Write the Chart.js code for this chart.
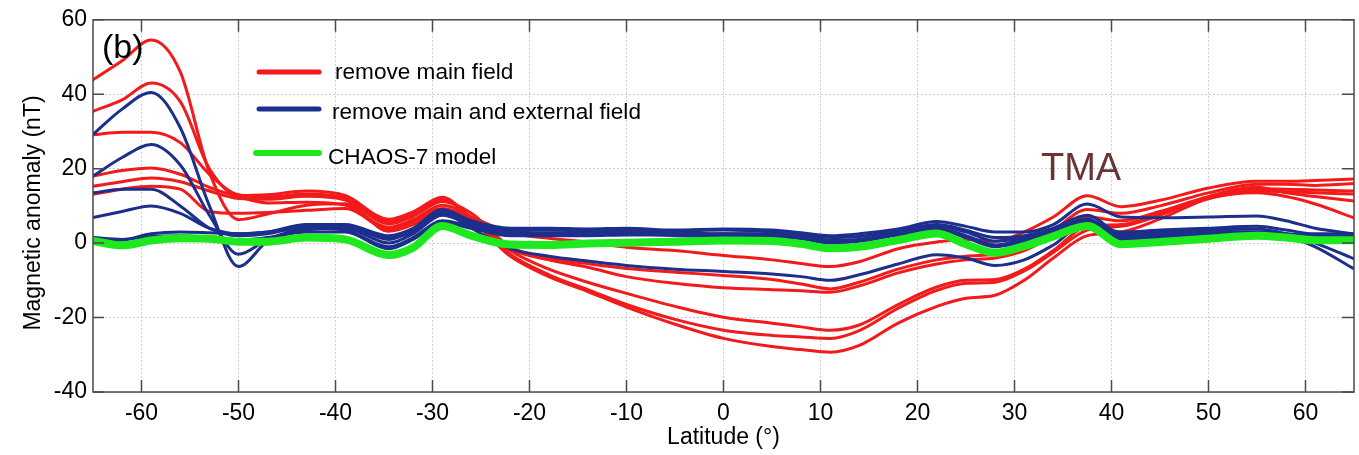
<!DOCTYPE html>
<html><head><meta charset="utf-8">
<script src="https://cdn.jsdelivr.net/npm/chart.js@4.4.0/dist/chart.umd.min.js"></script>
<style>html,body{margin:0;padding:0;background:#fff;}canvas{display:block;}</style>
</head><body>
<canvas id="c" width="1359" height="455"></canvas>
<script>
// ---- data ----
const latitude = [-65,-62,-59,-56,-53,-50,-47,-43,-39,-34.5,-32,-29,-26,-22,-18,-14,-10,-5,0,5,8,11,14,18,22,25,28,31,34,37.5,41,45,50,55,58,61,65];
const xTicks = [-60,-50,-40,-30,-20,-10,0,10,20,30,40,50,60];
const yTicks = [-40,-20,0,20,40,60];
const legendLabels = ['remove main field','remove main and external field','CHAOS-7 model'];
const yTitle = 'Magnetic anomaly (nT)';
const xTitle = 'Latitude (°)';

const chaos7 = [0.6,-0.6,0.7,1.3,1.2,0.4,0.4, 1.5,1.0,-3.2,-1.2,4.6,2.0,-0.4, -0.5,-0.1,0.1,0.4,0.7,0.6,-0.2, -1.4,-1.0,0.8,2.6,-0.3,-2.6,-0.8, 1.8,4.6,-0.3,0.3,1.2,2.0,1.5, 0.8,0.8];

const mainA = [13.1,14.5,15.3,14.5,8.5,8.0,8.2, 8.8,9.3,3.8,5.8,9.3,7.0,2.8, 1.3,0.3,-1.1,-2.0,-3.3,-4.5,-5.5, -6.3,-5.0,-1.5,0.3,1.0,0.5,3.0, 7.0,12.7,9.8,11.5,14.8,16.6,16.6, 16.8,17.2];
const mainB = [15.3,16.5,17.5,16.5,14.0,12.0,11.8, 12.6,11.6,5.2,7.2,11.2,8.0,-1.0, -4.0,-5.5,-6.8,-7.8,-8.7,-9.8,-11.0, -12.3,-10.5,-7.0,-4.5,-3.5,-3.0,-1.0, 3.5,9.0,8.0,10.0,13.5,15.8,15.8, 15.5,16.0];
const mainC = [18.0,19.5,20.2,18.5,15.0,12.5,10.8, 11.0,10.2,4.3,6.3,10.2,7.0,-1.5, -4.5,-6.5,-9.0,-10.8,-12.0,-12.5,-12.8, -13.2,-11.5,-8.0,-5.6,-4.5,-4.0,-2.0, 2.0,7.0,6.0,8.5,12.5,14.6,14.5, 14.3,14.0];
const mainD = [29.1,29.8,29.8,27.0,18.5,13.0,12.4, 13.2,12.2,5.8,7.8,11.8,6.5,-2.0, -7.0,-10.5,-13.5,-17.0,-19.9,-21.5,-22.5, -23.4,-22.0,-16.5,-11.8,-10.0,-9.8,-7.0, -2.0,4.5,5.0,8.0,12.0,14.0,13.8, 13.5,13.2];
const mainE = [35.4,38.5,43.0,38.0,20.0,12.8,13.0, 14.0,12.8,6.4,8.4,12.3,6.5,-3.0, -8.5,-12.5,-16.5,-20.5,-23.4,-24.8,-25.2, -25.6,-23.5,-17.5,-12.7,-10.8,-10.5,-7.5, -2.5,3.5,4.5,7.5,12.5,15.0,13.5, 12.5,11.3];
const mainF = [43.9,49.0,54.6,46.0,19.0,6.3,7.8, 10.2,10.6,3.2,5.0,9.0,6.0,-3.5, -9.0,-13.0,-17.2,-21.8,-25.6,-27.8,-28.6, -29.3,-27.5,-21.5,-17.0,-14.8,-14.0,-10.0, -4.0,2.0,3.0,6.5,12.0,13.5,12.5, 10.5,6.8];

const extA = [29.2,36.0,40.5,31.0,10.0,-6.3,0.5, 3.5,4.0,0.0,2.5,7.5,5.0,3.0, 2.8,2.8,3.0,2.8,2.5,2.5,1.8, 0.8,1.0,2.8,4.5,3.0,0.5,1.5, 3.5,6.5,2.0,2.5,3.0,3.0,2.0, -1.0,-6.9];
const extB = [18.0,23.0,26.5,21.0,7.5,-3.0,1.0, 4.0,4.5,1.0,3.5,8.5,5.5,3.5, 3.5,3.3,3.5,3.3,3.5,3.0,2.3, 1.5,1.8,3.3,5.0,3.5,1.5,2.0, 4.0,7.5,2.5,3.0,3.5,3.8,2.5, 0.0,-4.2];
const extC = [13.5,14.5,14.5,10.0,4.0,2.0,2.5, 4.5,4.5,1.5,3.0,8.0,4.0,-1.5, -3.5,-4.8,-6.0,-7.0,-7.6,-8.3,-9.0, -10.0,-8.5,-5.6,-3.1,-4.0,-6.0,-4.5, -0.5,5.5,3.0,3.5,4.0,4.5,3.5, 2.5,2.5];
const extD = [6.9,8.5,10.0,8.0,4.0,2.5,3.0, 5.0,5.0,2.0,4.0,9.0,6.0,4.0, 4.0,3.8,4.0,3.5,3.8,3.5,2.8, 2.0,2.5,3.8,5.8,4.5,3.0,3.0, 5.0,10.5,7.0,6.8,7.0,7.3,6.0, 4.0,2.5];
const extE = [0.5,0.8,2.5,3.0,2.8,2.5,3.0, 4.0,3.5,-1.0,1.5,6.0,4.5,2.5, 2.5,2.4,2.5,2.0,1.8,1.8,1.2, 0.0,0.5,2.2,3.5,1.5,-1.0,0.5, 2.5,5.0,1.0,1.5,2.0,2.5,2.0, 1.8,1.5];
const extF = [1.5,1.0,1.8,2.0,1.5,0.8,1.5, 3.0,3.0,-1.5,1.0,5.5,4.0,2.0, 2.0,2.0,2.2,2.2,2.5,2.2,1.5, 0.5,0.8,2.5,4.0,2.0,-0.5,1.0, 3.0,6.0,1.5,2.0,2.5,3.0,2.5, 2.0,2.0];

const mainSeries = [mainA, mainB, mainC, mainD, mainE, mainF];
const extSeries = [extA, extB, extC, extD, extE, extF];

// ---- styles ----
const RED = '#f21a1a', BLUE = '#1c2f8c', GREEN = '#1ee81e';
const FONT = '"Liberation Sans", Arial, sans-serif';
const toPts = vals => latitude.map((x, i) => ({ x, y: vals[i] }));

const datasets = [];
datasets.push({ label: legendLabels[2], data: toPts(chaos7), borderColor: GREEN, borderWidth: 8, order: 0 });
extSeries.forEach(s => datasets.push({ label: legendLabels[1], data: toPts(s), borderColor: BLUE, borderWidth: 3, order: 1 }));
mainSeries.forEach(s => datasets.push({ label: legendLabels[0], data: toPts(s), borderColor: RED, borderWidth: 3, order: 2 }));

const decor = {
  id: 'decor',
  afterDraw(chart) {
    const { ctx, chartArea: a, scales: { x, y } } = chart;
    ctx.save();
    ctx.strokeStyle = '#4a4a4a';
    ctx.lineWidth = 1.5;
    ctx.strokeRect(a.left, a.top, a.right - a.left, a.bottom - a.top);
    ctx.beginPath();
    xTicks.forEach(v => {
      const px = x.getPixelForValue(v);
      ctx.moveTo(px, a.bottom); ctx.lineTo(px, a.bottom - 12);
      ctx.moveTo(px, a.top); ctx.lineTo(px, a.top + 12);
    });
    yTicks.forEach(v => {
      const py = y.getPixelForValue(v);
      ctx.moveTo(a.left, py); ctx.lineTo(a.left + 11, py);
      ctx.moveTo(a.right, py); ctx.lineTo(a.right - 12, py);
    });
    ctx.stroke();

    // y-axis title (rotated)
    ctx.save();
    ctx.translate(34, 213);
    ctx.rotate(-Math.PI / 2);
    ctx.fillStyle = '#000';
    ctx.font = '23px ' + FONT;
    ctx.textAlign = 'center';
    ctx.textBaseline = 'middle';
    ctx.fillText(yTitle, 0, 0);
    ctx.restore();

    const cols = [RED, BLUE, GREEN];
    const lineY = [72, 109, 153];
    const textX = [335, 332, 328];
    const baseY = [79, 119, 164];
    ctx.lineCap = 'round';
    for (let i = 0; i < 3; i++) {
      ctx.strokeStyle = cols[i];
      ctx.lineWidth = i === 2 ? 6 : 5;
      ctx.beginPath();
      ctx.moveTo(i === 2 ? 256 : 259, lineY[i]);
      ctx.lineTo(319, lineY[i]);
      ctx.stroke();
      ctx.fillStyle = '#000';
      ctx.font = '22.6px ' + FONT;
      ctx.textBaseline = 'alphabetic';
      ctx.textAlign = 'left';
      ctx.fillText(legendLabels[i], textX[i], baseY[i]);
    }
    ctx.fillStyle = '#000';
    ctx.font = '34px ' + FONT;
    ctx.fillText('(b)', 102, 58);
    ctx.fillStyle = '#683434';
    ctx.font = '38px ' + FONT;
    ctx.fillText('TMA', 1041, 180);
    ctx.restore();
  }
};

new Chart(document.getElementById('c').getContext('2d'), {
  type: 'line',
  data: { datasets },
  options: {
    responsive: false,
    animation: false,
    devicePixelRatio: 1,
    layout: { padding: { top: 18, right: 5, left: 0, bottom: 0 } },
    plugins: { legend: { display: false }, tooltip: { enabled: false } },
    elements: {
      point: { radius: 0 },
      line: { cubicInterpolationMode: 'monotone', borderCapStyle: 'round', borderJoinStyle: 'round', fill: false }
    },
    scales: {
      x: {
        type: 'linear', min: -65, max: 65,
        afterBuildTicks: s => { s.ticks = xTicks.map(v => ({ value: v })); },
        afterFit: s => { s.height = 63; },
        grid: { color: '#cccccc', lineWidth: 1, drawTicks: false },
        border: { display: false, dash: [2, 2] },
        ticks: { font: { family: FONT, size: 23 }, color: '#000', padding: 8, maxRotation: 0, autoSkip: false },
        title: { display: true, text: xTitle, font: { family: FONT, size: 23 }, color: '#000', padding: { top: 0, bottom: 4 } }
      },
      y: {
        type: 'linear', min: -40, max: 60,
        afterBuildTicks: s => { s.ticks = yTicks.map(v => ({ value: v })); },
        afterFit: s => { s.width = 93; },
        grid: { color: '#cccccc', lineWidth: 1, drawTicks: false },
        border: { display: false, dash: [2, 2] },
        ticks: { font: { family: FONT, size: 23 }, color: '#000', padding: 6, autoSkip: false },
        title: { display: false, text: yTitle }
      }
    }
  },
  plugins: [decor]
});
</script>
</body></html>
